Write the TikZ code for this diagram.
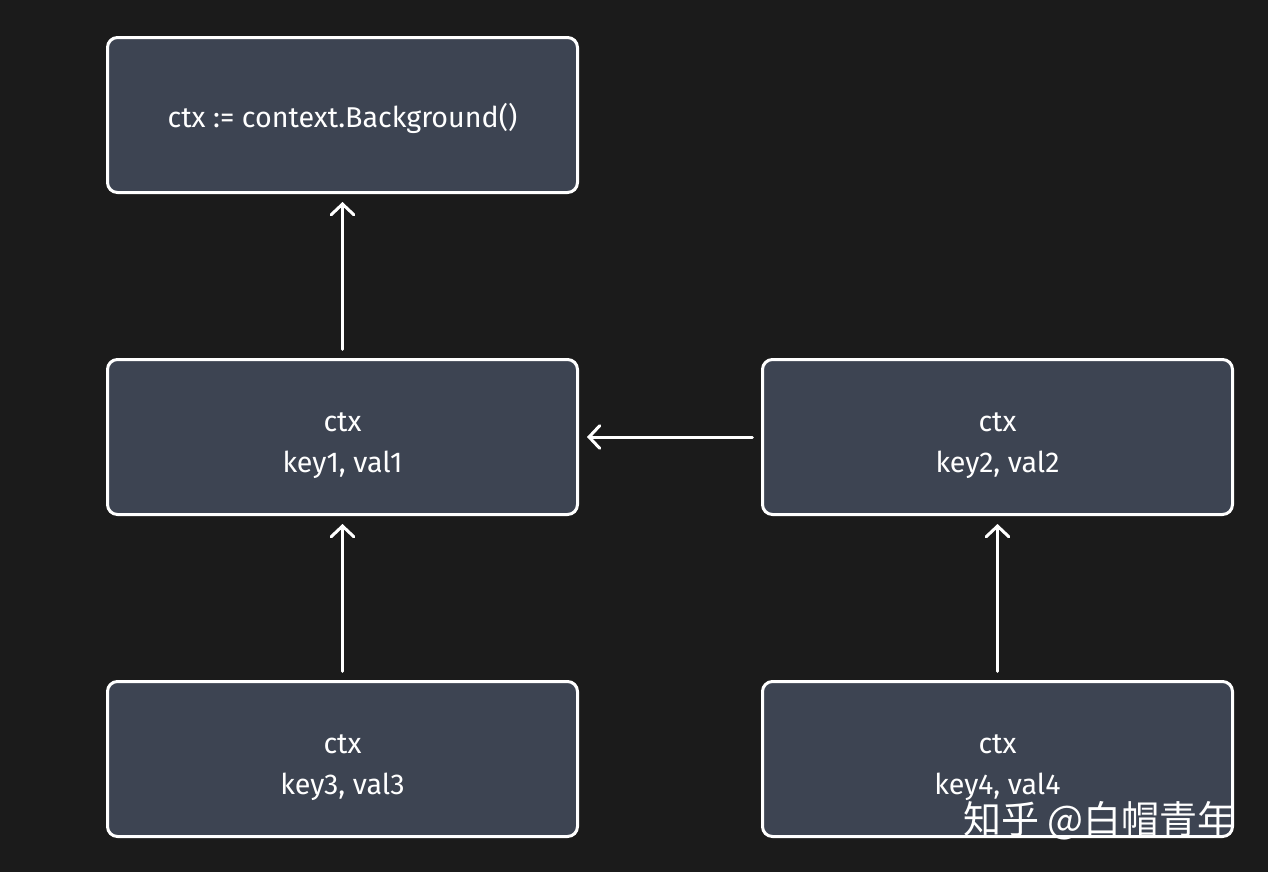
\documentclass[tikz,border=0pt]{standalone}
\usepackage{fontspec}
\setmainfont{Fira Sans}
\newfontfamily\cjkfont{Noto Sans CJK SC}
\usetikzlibrary{arrows.meta, positioning}
\definecolor{cBg}{HTML}{1B1B1B}
\definecolor{cBox}{HTML}{3D4452}

\begin{document}
\begin{tikzpicture}[x=0.75pt, y=-0.75pt,
  node distance=123pt and 136.5pt,
  ctxbox/.style={draw=white, line width=2.25pt, rounded corners=7.5pt, fill=cBox,
                 minimum width=352.5pt, minimum height=116.25pt, align=center, text=white,
                 font=\fontsize{21.5}{30.75}\selectfont, text depth=0pt},
  ctxpair/.style={ctxbox, text height=53pt},
  arr/.style={{Straight Barb[length=8pt, width=17pt, line cap=round]}-, line width=2.25pt,
              white, line cap=round, shorten <=6pt, shorten >=6.5pt}]
  \fill[cBg] (0,0) rectangle (1268,872);
  \useasboundingbox (0,0) rectangle (1268,872);
  \node[ctxbox] (bg) at (342.5,115) {ctx := context.Background()};
  \node[ctxpair, below=of bg] (k1) {ctx\\key1, val1};
  \node[ctxpair, right=of k1] (k2) {ctx\\key2, val2};
  \node[ctxpair, below=of k1] (k3) {ctx\\key3, val3};
  \node[ctxpair, below=of k2] (k4) {ctx\\key4, val4};
  \foreach \a/\b in {bg/k1, k1/k2, k1/k3, k2/k4} \draw[arr] (\a) -- (\b);
  \node[font=\cjkfont\fontsize{28.5}{28.5}\selectfont, text=white, anchor=south east,
        inner sep=0pt] (wm) at ([xshift=1.5pt, yshift=-1.5pt]k4.south east) {知乎 @白帽青年};
\end{tikzpicture}
\end{document}
